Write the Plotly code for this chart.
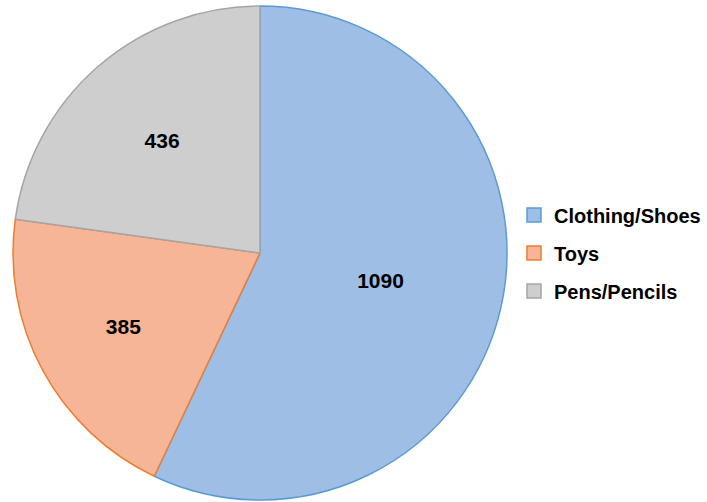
import plotly.graph_objects as go

categories = ["Clothing/Shoes", "Toys", "Pens/Pencils"]
values = [1090, 385, 436]

fill_colors = ["#9fbee6", "#f6b596", "#cecece"]
line_colors = ["#5b9bd5", "#ed7d31", "#a5a5a5"]

FONT = "Liberation Sans"

fig = go.Figure()

fig.add_trace(go.Pie(
    labels=categories,
    values=values,
    sort=False,
    direction="clockwise",
    rotation=0,
    marker=dict(colors=fill_colors, line=dict(color=line_colors, width=1.5)),
    textinfo="value",
    textposition="inside",
    insidetextorientation="horizontal",
    textfont=dict(family=FONT, size=21, color="#000000", weight="bold"),
    domain=dict(x=[13/707, 507/707], y=[2/502, 496/502]),
    hoverinfo="label+value",
    showlegend=False,
))

# legend entries (one per category, so gaps between them can be set)
for cat, fc, lc in zip(categories, fill_colors, line_colors):
    fig.add_trace(go.Scatter(
        x=[None], y=[None], mode="markers", name=cat,
        legendgroup=cat,
        marker=dict(symbol="square", size=14, color=fc, line=dict(color=lc, width=1.5)),
        hoverinfo="skip",
    ))

fig.update_layout(
    width=707, height=502,
    margin=dict(l=0, r=0, t=0, b=0),
    paper_bgcolor="white",
    plot_bgcolor="white",
    showlegend=True,
    xaxis=dict(visible=False),
    yaxis=dict(visible=False),
    legend=dict(
        x=514/707, y=0.496, xanchor="left", yanchor="middle",
        traceorder="grouped", tracegroupgap=9,
        font=dict(family=FONT, size=20, color="#000000", weight="bold"),
        bgcolor="rgba(0,0,0,0)",
    ),
)

fig.write_html("out.html", config={"displayModeBar": False},
               post_script="document.body.style.margin='0';")
